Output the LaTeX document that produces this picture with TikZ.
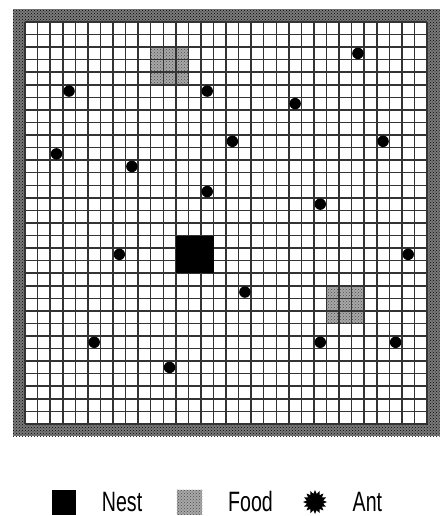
\documentclass[tikz,border=0pt]{standalone}
\usepackage{fontspec}
\setmainfont{Liberation Sans}
\usetikzlibrary{shapes.geometric,patterns}
\definecolor{bordergray}{gray}{0.48}
\definecolor{foodgray}{gray}{0.66}
\begin{document}
\begin{tikzpicture}[x=1pt,y=-1pt,
  gridline/.style={line width=1.5pt, black!80},
  bordertex/.style={pattern=crosshatch dots, pattern color=black},
  foodtex/.style={pattern=crosshatch dots, pattern color=black!70},
  nestbox/.style={fill=black, draw=none, inner sep=0pt, minimum size=37.68pt},
  foodbox/.style={fill=foodgray, draw=none, inner sep=0pt, minimum size=37.68pt,
    postaction={foodtex}},
  antdot/.style={circle, fill=black, inner sep=0pt, minimum size=11.5pt},
  antstar/.style={star, star points=16, star point ratio=1.45, fill=black, inner sep=0pt, minimum size=24pt},
  legtext/.style={anchor=base west, inner sep=0pt, font=\fontsize{28}{28}\selectfont}]
\useasboundingbox (0,0) rectangle (439,516);
\fill[white] (0,0) rectangle (439,516);
\begin{scope}[shift={(25.1,22)}, x=12.56pt, y=-12.56pt]
  % border
  \fill[bordergray] (-1,-1) rectangle (33,33);
  \fill[bordertex] (-1,-1) rectangle (33,33);
  \fill[white] (0,0) rectangle (32,32);
  % food
  \node[foodbox] (food1) at (11.5,3.5) {};
  \node[foodbox] (food2) at (25.5,22.5) {};
  % grid
  \foreach \i in {0,...,32} {
    \draw[gridline] (\i,0) -- (\i,32);
    \draw[gridline] (0,\i) -- (32,\i);
  }
  % nest
  \node[nestbox] (nest) at (13.5,18.5) {};
  % ants
  \foreach \cx/\cy/\n in {26/2/1, 3/5/2, 14/5/3, 21/6/4, 2/10/5, 16/9/6, 28/9/7,
      8/11/8, 14/13/9, 23/14/10, 7/18/11, 30/18/12, 17/21/13, 5/25/14,
      23/25/15, 29/25/16, 11/27/17} {
    \node[antdot] (ant\n) at (\cx+0.5,\cy+0.5) {};
  }
\end{scope}
% legend
\node[nestbox, minimum width=24.3pt, minimum height=25pt] (lnest) at (63.8,502) {};
\node[legtext] (lnesttext) at (101.7,511.5) {\scalebox{0.7}[1]{Nest}};
\node[foodbox, minimum width=25.6pt, minimum height=25pt] (lfood) at (189.5,502) {};
\node[legtext] (lfoodtext) at (228,511.5) {\scalebox{0.7}[1]{Food}};
\node[antstar] (lant) at (315,502) {};
\node[legtext] (lanttext) at (352.5,511.5) {\scalebox{0.7}[1]{Ant}};
\end{tikzpicture}
\end{document}
